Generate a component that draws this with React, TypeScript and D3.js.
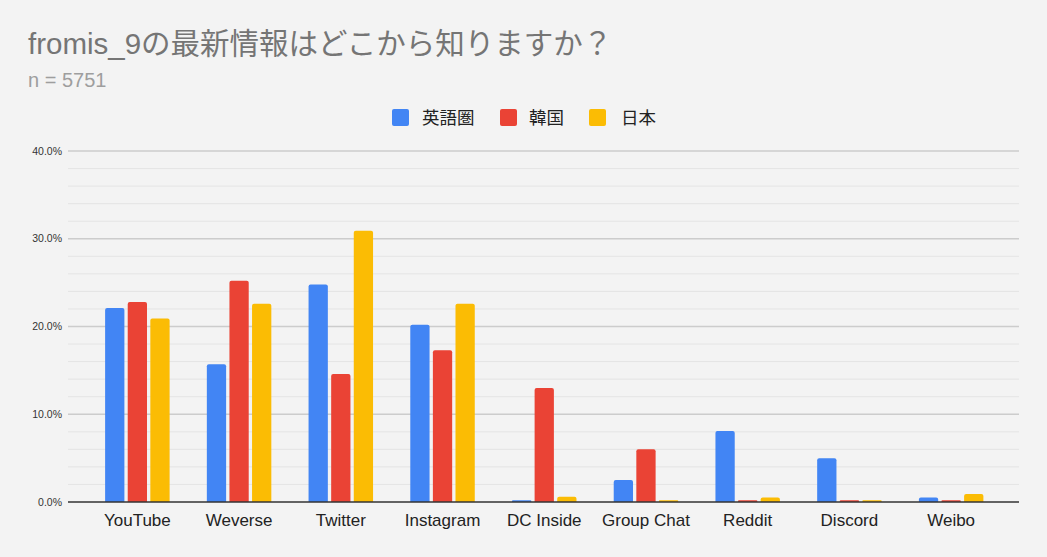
import * as d3 from "d3"

const categories = ["YouTube", "Weverse", "Twitter", "Instagram", "DC Inside", "Group Chat", "Reddit", "Discord", "Weibo"]
const seriesNames = ["英語圏", "韓国", "日本"]
const english = [22.1, 15.7, 24.8, 20.2, 0.2, 2.5, 8.1, 5.0, 0.5]
const korea = [22.8, 25.2, 14.6, 17.3, 13.0, 6.0, 0.2, 0.2, 0.2]
const japan = [20.9, 22.6, 30.9, 22.6, 0.6, 0.2, 0.5, 0.2, 0.9]
const yTicks = [0, 10, 20, 30, 40]
const colors = ["#4285f4", "#ea4335", "#fbbc04"]

const W = 1047
const H = 557
const FONT = "'Liberation Sans', Arial, 'Noto Sans CJK JP', sans-serif"

export default function App() {
  const series = [english, korea, japan]
  const plotLeft = 68
  const plotRight = 1019
  const y = d3.scaleLinear().domain([0, 40]).range([502, 151])
  const x0 = d3.scaleBand().domain(categories).range([86.5, 1002]).paddingInner(0.366).paddingOuter(0.183)
  const x1 = d3.scaleBand().domain(seriesNames).range([0, x0.bandwidth()]).paddingInner(0.147)
  const minor = d3.range(0, 40, 2).filter((v) => v % 10 !== 0)

  const legendItems = [
    { x: 392, textX: 422 },
    { x: 500, textX: 529 },
    { x: 589, textX: 621 },
  ]

  return (
    <svg width={W} height={H} style={{ position: "absolute", left: 0, top: 0, display: "block" }} fontFamily={FONT}>
      <rect width={W} height={H} fill="#f3f3f3" />
      <text x={28} y={54} fontSize={29.5} fill="#757575">
        fromis_9の最新情報はどこから知りますか？
      </text>
      <text x={28} y={87} fontSize={20} fill="#9e9e9e">
        n = 5751
      </text>

      {seriesNames.map((s, i) => (
        <g key={s}>
          <rect x={legendItems[i].x} y={109} width={17} height={17} rx={2} fill={colors[i]} />
          <text x={legendItems[i].textX} y={118} dy="0.35em" fontSize={17.5} fill="#222">
            {s}
          </text>
        </g>
      ))}

      {minor.map((v) => (
        <line key={"m" + v} x1={plotLeft} x2={plotRight} y1={y(v)} y2={y(v)} stroke="#e4e4e4" strokeWidth={1} />
      ))}
      {yTicks.slice(1).map((v) => (
        <line key={"g" + v} x1={plotLeft} x2={plotRight} y1={y(v)} y2={y(v)} stroke="#cccccc" strokeWidth={1.3} />
      ))}
      {yTicks.map((v) => (
        <text key={"t" + v} x={62} y={y(v)} dy="0.35em" textAnchor="end" fontSize={10.5} fill="#333">
          {v.toFixed(1) + "%"}
        </text>
      ))}

      {categories.map((c, ci) => (
        <g key={c} transform={`translate(${x0(c)},0)`}>
          {series.map((vals, si) => {
            const top = y(vals[ci])
            const h = y(0) - top
            const bw = x1.bandwidth()
            const r = Math.min(2, h / 2)
            const bx = x1(seriesNames[si]) as number
            const d = `M${bx},${y(0)} V${top + r} Q${bx},${top} ${bx + r},${top} H${bx + bw - r} Q${bx + bw},${top} ${bx + bw},${top + r} V${y(0)} Z`
            return <path key={si} d={d} fill={colors[si]} />
          })}
        </g>
      ))}

      <line x1={plotLeft} x2={plotRight} y1={y(0)} y2={y(0)} stroke="#333" strokeWidth={1.3} />

      {categories.map((c) => (
        <text key={"x" + c} x={(x0(c) as number) + x0.bandwidth() / 2} y={526} textAnchor="middle" fontSize={17} fill="#222">
          {c}
        </text>
      ))}
    </svg>
  )
}
